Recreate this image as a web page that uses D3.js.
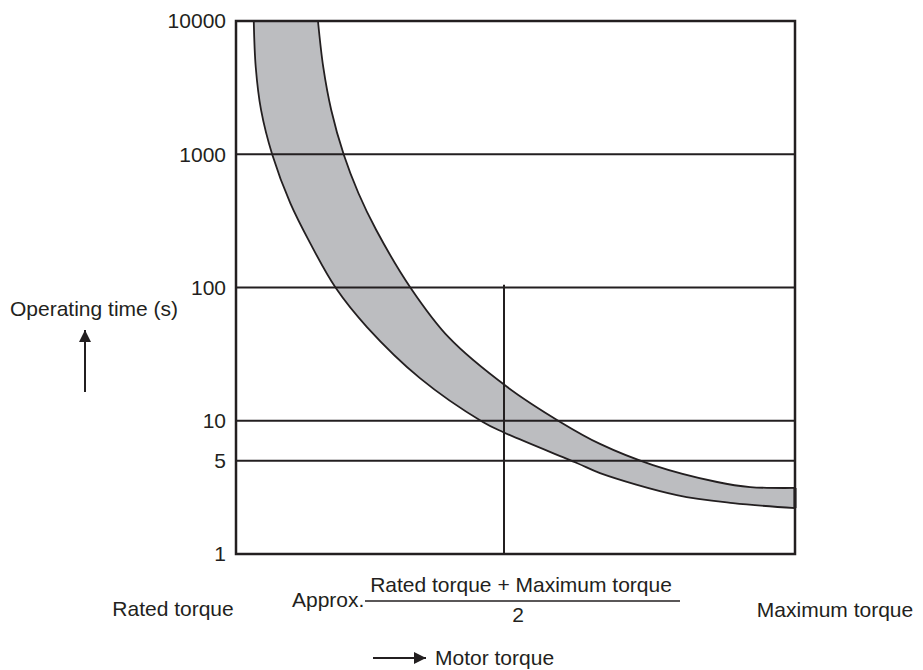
<!DOCTYPE html>
<html>
<head>
<meta charset="utf-8">
<script src="https://cdn.jsdelivr.net/npm/d3@7"></script>
<style>
  body { margin: 0; background: #fff; }
  svg text { font-family: "Liberation Sans", Arial, sans-serif; fill: #231f20; font-size: 21px; }
</style>
</head>
<body>
<svg width="923" height="670"></svg>
<script>
// Torque as a fraction between rated (0) and maximum (1) torque
let torqueUpper = [0.219, 0.227, 0.239, 0.258, 0.280, 0.307, 0.358, 0.417, 0.505, 0.585, 0.645, 0.725, 0.822, 0.872, 0.940];
let timeUpper   = [10000, 4500, 2150, 990, 512, 270, 101, 42, 17.9, 9.8, 6.7, 4.65, 3.47, 3.18, 3.13];

let torqueLower = [0.122, 0.125, 0.133, 0.150, 0.177, 0.207, 0.246, 0.293, 0.373, 0.468, 0.499, 0.610, 0.645, 0.761, 0.846, 0.940];
let timeLower   = [10000, 4500, 2150, 990, 431, 216, 99, 50.5, 20.9, 9.8, 8.2, 4.82, 4.05, 2.77, 2.41, 2.21];

let yTicks = [1, 5, 10, 100, 1000, 10000];
let gridValues = [1000, 100, 10, 5];
let midTorque = 0.5;
let midLineTop = 105;

let svg = d3.select('svg');
let ink = '#231f20';

// plot box
let plotLeft = 236, plotRight = 795, plotTop = 21, plotBottom = 554;

let x = d3.scaleLinear().domain([0, 1]).range([173, 835]);
let y = d3.scaleLog().domain([1, 10000]).range([plotBottom, plotTop]);

// band between the two curves
let line = d3.line()
  .x(d => x(d[0]))
  .y(d => y(d[1]))
  .curve(d3.curveCatmullRom.alpha(0.5));

let upper = torqueUpper.map((t, i) => [t, timeUpper[i]]);
let lower = torqueLower.map((t, i) => [t, timeLower[i]]);

let bandPath = line(upper) + 'L' + line(lower.slice().reverse()).slice(1) + 'Z';

svg.append('path')
  .attr('d', bandPath)
  .attr('fill', '#bcbdc0')
  .attr('stroke', 'none');

// horizontal grid lines
svg.append('g')
  .selectAll('line')
  .data(gridValues)
  .enter().append('line')
    .attr('x1', plotLeft)
    .attr('x2', plotRight)
    .attr('y1', d => y(d))
    .attr('y2', d => y(d))
    .attr('stroke', ink)
    .attr('stroke-width', 2);

// vertical line at approx. mid torque
svg.append('line')
  .attr('x1', x(midTorque))
  .attr('x2', x(midTorque))
  .attr('y1', y(midLineTop))
  .attr('y2', plotBottom)
  .attr('stroke', ink)
  .attr('stroke-width', 2);

// curve outlines
[upper, lower].forEach(pts => {
  svg.append('path')
    .attr('d', line(pts))
    .attr('fill', 'none')
    .attr('stroke', ink)
    .attr('stroke-width', 1.8);
});

// right end of the band
svg.append('line')
  .attr('x1', plotRight).attr('x2', plotRight)
  .attr('y1', y(timeUpper[timeUpper.length - 1]))
  .attr('y2', y(timeLower[timeLower.length - 1]))
  .attr('stroke', ink)
  .attr('stroke-width', 3);

// box
svg.append('rect')
  .attr('x', plotLeft)
  .attr('y', plotTop)
  .attr('width', plotRight - plotLeft)
  .attr('height', plotBottom - plotTop)
  .attr('fill', 'none')
  .attr('stroke', ink)
  .attr('stroke-width', 2.5);

// y tick labels
svg.append('g')
  .selectAll('text')
  .data(yTicks)
  .enter().append('text')
    .attr('x', 226)
    .attr('y', d => y(d))
    .attr('dy', '0.35em')
    .attr('text-anchor', 'end')
    .text(d => d);

// arrow marker
let defs = svg.append('defs');
defs.append('marker')
    .attr('id', 'head')
    .attr('viewBox', '0 0 10 10')
    .attr('refX', 10)
    .attr('refY', 5)
    .attr('markerWidth', 6)
    .attr('markerHeight', 6)
    .attr('markerUnits', 'strokeWidth')
    .attr('orient', 'auto')
  .append('path')
    .attr('d', 'M0,0L10,5L0,10Z')
    .attr('fill', ink);

// y axis title and arrow
svg.append('text')
  .attr('x', 10)
  .attr('y', 316)
  .text('Operating time (s)');

svg.append('line')
  .attr('x1', 85).attr('x2', 85)
  .attr('y1', 392).attr('y2', 330)
  .attr('stroke', ink)
  .attr('stroke-width', 2)
  .attr('marker-end', 'url(#head)');

// x labels
svg.append('text')
  .attr('x', x(0))
  .attr('y', 616)
  .attr('text-anchor', 'middle')
  .text('Rated torque');

svg.append('text')
  .attr('x', x(1))
  .attr('y', 617)
  .attr('text-anchor', 'middle')
  .text('Maximum torque');

svg.append('text')
  .attr('x', 292)
  .attr('y', 607)
  .text('Approx.');

svg.append('text')
  .attr('x', 521)
  .attr('y', 592)
  .attr('text-anchor', 'middle')
  .text('Rated torque + Maximum torque');

svg.append('line')
  .attr('x1', 365).attr('x2', 680)
  .attr('y1', 601).attr('y2', 601)
  .attr('stroke', ink)
  .attr('stroke-width', 1.5);

svg.append('text')
  .attr('x', 518)
  .attr('y', 622)
  .attr('text-anchor', 'middle')
  .text('2');

// x axis title and arrow
svg.append('line')
  .attr('x1', 373).attr('x2', 426)
  .attr('y1', 658).attr('y2', 658)
  .attr('stroke', ink)
  .attr('stroke-width', 2)
  .attr('marker-end', 'url(#head)');

svg.append('text')
  .attr('x', 435)
  .attr('y', 665)
  .text('Motor torque');
</script>
</body>
</html>
